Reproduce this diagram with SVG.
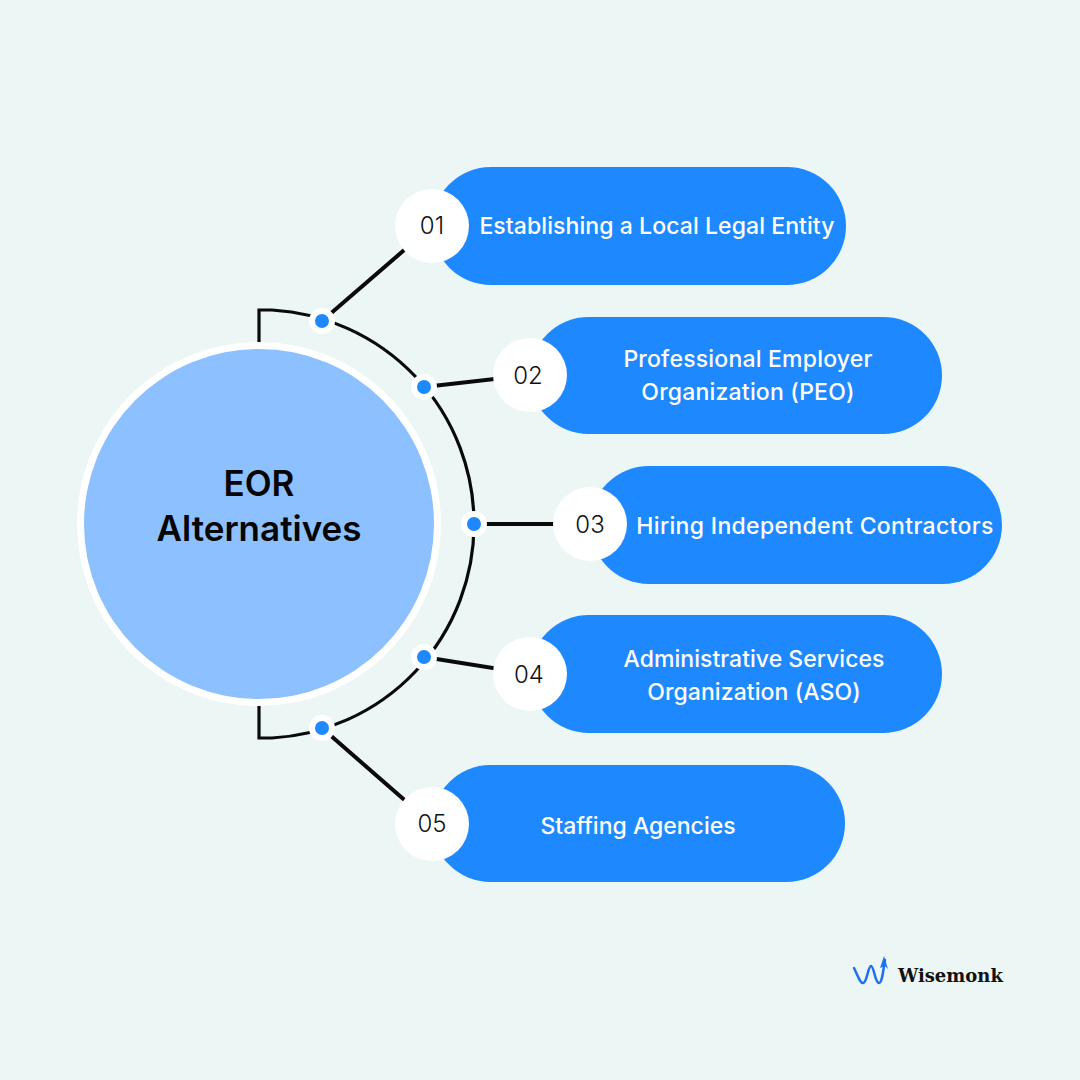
<svg xmlns="http://www.w3.org/2000/svg" width="1080" height="1080" viewBox="0 0 1080 1080">
<style>
.pill{fill:#1e88ff}
.num{fill:#fff}
.nt{font-family:"Inter","Noto Sans",sans-serif;font-size:24px;font-weight:300;fill:#111;text-anchor:middle}
.lb{font-family:"Inter","Noto Sans",sans-serif;font-size:23px;font-weight:500;fill:#fff;text-anchor:middle;letter-spacing:.2px}
.ln{fill:none;stroke:#0a0a0a;stroke-width:3.2}
.sp{fill:none;stroke:#0a0a0a;stroke-width:4}
.dot{fill:#1e88ff;stroke:#fff;stroke-width:6}
.ct{font-family:"Inter","Noto Sans",sans-serif;font-size:35px;font-weight:600;text-anchor:middle;fill:#050505}
</style>
<rect width="1080" height="1080" fill="#ecf6f4"/>
<g id="connectors">
<path class="ln" d="M259 343V310H272A214 214 0 0 1 474 524A214 214 0 0 1 272 738H259V705"/>
<path class="sp" d="M322 321L432 226M424 387L530 375M474 524H590M424 657L530 674M322 728L432 824"/>
</g>
<g id="center"><circle cx="259" cy="524" r="182" fill="#fff"/><circle cx="259" cy="524" r="175" fill="#8dc0ff"/>
<text class="ct" x="259" y="496">EOR</text>
<text class="ct" x="259" y="541">Alternatives</text></g>
<g id="dots"><circle class="dot" cx="322" cy="321" r="10"/><circle class="dot" cx="424" cy="387" r="10"/><circle class="dot" cx="474" cy="524" r="10"/><circle class="dot" cx="424" cy="657" r="10"/><circle class="dot" cx="322" cy="728" r="10"/></g>
<g id="n1"><rect class="pill" x="432" y="167" width="414" height="118" rx="59"/><circle class="num" cx="432" cy="226" r="37"/><text class="nt" x="432" y="234">01</text><text class="lb" x="657" y="234" style="letter-spacing:.08px">Establishing a Local Legal Entity</text></g>
<g id="n2"><rect class="pill" x="530" y="317" width="412" height="117" rx="58.5"/><circle class="num" cx="530" cy="375" r="37"/><text class="nt" x="528" y="384">02</text><text class="lb" x="748" y="367">Professional Employer</text><text class="lb" x="748" y="400">Organization (PEO)</text></g>
<g id="n3"><rect class="pill" x="590" y="466" width="412" height="118" rx="59"/><circle class="num" cx="590" cy="524" r="37"/><text class="nt" x="590" y="533">03</text><text class="lb" x="815" y="534" style="letter-spacing:.33px">Hiring Independent Contractors</text></g>
<g id="n4"><rect class="pill" x="530" y="615" width="412" height="118" rx="59"/><circle class="num" cx="530" cy="674" r="37"/><text class="nt" x="529" y="683">04</text><text class="lb" x="754" y="667" style="letter-spacing:.03px">Administrative Services</text><text class="lb" x="754" y="700" style="letter-spacing:.08px">Organization (ASO)</text></g>
<g id="n5"><rect class="pill" x="432" y="765" width="413" height="117" rx="58.5"/><circle class="num" cx="432" cy="824" r="37"/><text class="nt" x="432" y="832">05</text><text class="lb" x="638" y="834" style="letter-spacing:0">Staffing Agencies</text></g>
<g id="logo"><path d="M854 968C858 976 860 983 863 983C867 983 868 966 871 966C874 966 875 983 879 983C882 983 883 972 885 960" fill="none" stroke="#1e70f0" stroke-width="2.5" stroke-linecap="round"/><path d="M884 956L888 969L885 966L880 968Z" fill="#1e70f0"/><text x="898" y="982" font-family="'DejaVu Serif',serif" font-size="18" font-weight="700" fill="#111">Wisemonk</text></g>
</svg>
